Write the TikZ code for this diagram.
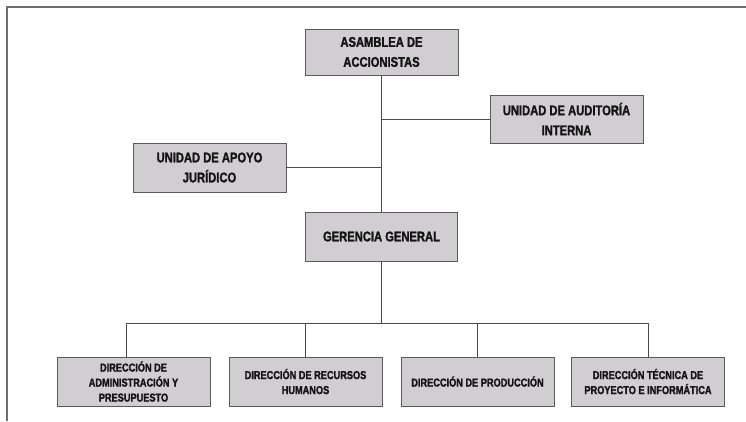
\documentclass[tikz,border=0pt]{standalone}
\usepackage{fontspec}
\newfontfamily\orgfont[FakeStretch=0.8,FakeBold=1.6]{Liberation Sans}
\definecolor{boxfill}{HTML}{D0CED0}
\definecolor{boxdraw}{HTML}{5A5A5A}
\definecolor{linec}{HTML}{4A4A4A}
\definecolor{framec}{HTML}{6E6E6E}
\begin{document}
\begin{tikzpicture}[x=1pt,y=-1pt,
  orgbox/.style={draw=boxdraw,line width=0.9pt,fill=boxfill,inner sep=0pt,
    minimum width=153pt,minimum height=48pt,align=center,text=black!92,
    font=\orgfont\bfseries\fontsize{14}{20}\selectfont},
  dirbox/.style={orgbox,minimum height=49pt,
    font=\orgfont\bfseries\fontsize{11.5}{15}\selectfont},
  conn/.style={draw=linec,line width=0.8pt}]
\useasboundingbox (0,0) rectangle (746,421);
\draw[framec,line width=1.6pt] (7,421) -- (7,7) -- (746,7);

\node[orgbox,minimum height=46pt] (asam) at (381.5,52) {ASAMBLEA DE\\ACCIONISTAS};
\node[orgbox] (aud) at (566.5,119) {UNIDAD DE AUDITORÍA\\INTERNA};
\node[orgbox,minimum height=49pt] (apo) at (209.5,167.5) {UNIDAD DE APOYO\\JURÍDICO};
\node[orgbox,minimum width=152pt,minimum height=49pt] (ger) at (381.5,236.5) {GERENCIA GENERAL};

\node[dirbox] (d1) at (133.5,381.5) {DIRECCIÓN DE\\ADMINISTRACIÓN Y\\PRESUPUESTO};
\node[dirbox] (d2) at (305.5,381.5) {DIRECCIÓN DE RECURSOS\\HUMANOS};
\node[dirbox] (d3) at (477.5,381.5) {DIRECCIÓN DE PRODUCCIÓN};
\node[dirbox] (d4) at (648,381.5) {DIRECCIÓN TÉCNICA DE\\PROYECTO E INFORMÁTICA};

\coordinate (busL) at (126,323);
\coordinate (busR) at (648,323);

\draw[conn] (asam.south) -- (ger.north);
\draw[conn] (aud.west) -- (aud.west -| asam.south);
\draw[conn] (apo.east) -- (apo.east -| asam.south);
\draw[conn] (ger.south) -- (ger.south |- busL);
\draw[conn] (busL) -- (busR);
\draw[conn] (busL) -- (busL |- d1.north);
\draw[conn] (d2.north |- busL) -- (d2.north);
\draw[conn] (d3.north |- busL) -- (d3.north);
\draw[conn] (busR) -- (d4.north);
\end{tikzpicture}
\end{document}
